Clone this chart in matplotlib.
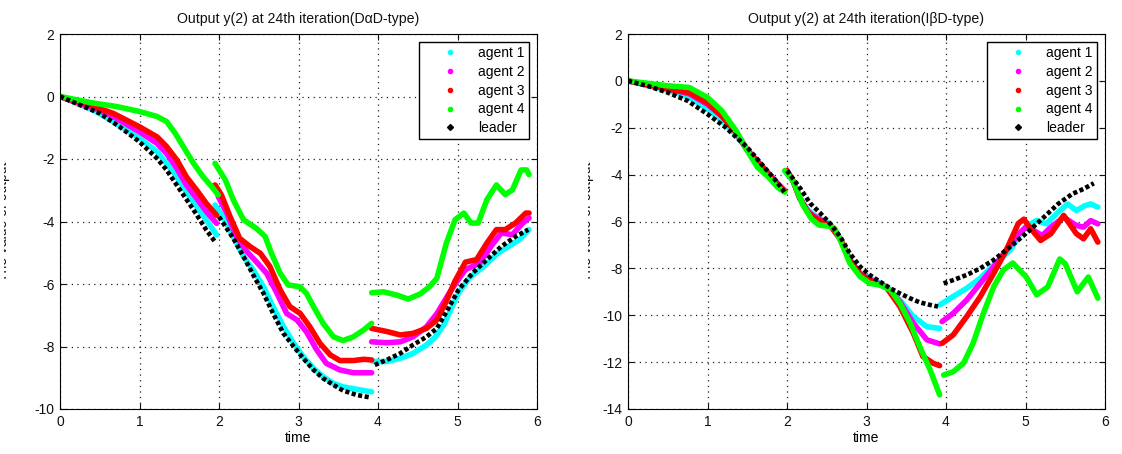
import numpy as np
import matplotlib
matplotlib.use("Agg")
import matplotlib.pyplot as plt
from matplotlib.lines import Line2D
from matplotlib.transforms import Bbox, TransformedBbox

plt.rcParams['font.family'] = ['Liberation Sans', 'DejaVu Sans']
plt.rcParams['axes.unicode_minus'] = False

nan = np.nan

# ---- left panel: D-alpha-D type (the three runs are split by nan) ----
da_agent1_t = [0, 0.42, 0.67, 1.0, 1.22, 1.34, 1.47, 1.59, 1.72, 1.84, 1.97, nan,
               1.95, 2.05, 2.18, 2.31, 2.43, 2.56, 2.68, 2.81, 2.94, 3.06, 3.19, 3.31, 3.44, 3.56, 3.73, 3.92, nan,
               3.94, 4.11, 4.28, 4.44, 4.61, 4.72, 4.83, 4.92, 5.01, 5.15, 5.33, 5.51, 5.64, 5.78, 5.9]
da_agent1_y = [0, -0.43, -0.8, -1.34, -1.76, -2.14, -2.57, -3.05, -3.53, -3.95, -4.43, nan,
               -3.47, -3.85, -4.49, -5.13, -5.55, -6.09, -6.73, -7.36, -7.9, -8.33, -8.7, -8.97, -9.18, -9.29, -9.37, -9.45, nan,
               -8.48, -8.48, -8.38, -8.22, -7.95, -7.7, -7.3, -6.8, -6.3, -5.8, -5.44, -5.01, -4.8, -4.58, -4.26]

da_agent2_t = [0, 0.42, 0.67, 1.0, 1.22, 1.34, 1.47, 1.59, 1.72, 1.84, 1.97, nan,
               1.99, 2.1, 2.22, 2.35, 2.47, 2.6, 2.73, 2.85, 2.98, 3.1, 3.23, 3.35, 3.52, 3.69, 3.92, nan,
               3.92, 4.11, 4.28, 4.44, 4.61, 4.74, 4.87, 4.97, 5.1, 5.28, 5.42, 5.55, 5.69, 5.82, 5.9]
da_agent2_y = [0, -0.37, -0.64, -1.13, -1.5, -1.82, -2.3, -2.83, -3.26, -3.68, -4.06, nan,
               -3.2, -3.74, -4.49, -4.96, -5.29, -5.66, -6.3, -6.94, -7.15, -7.53, -8.11, -8.54, -8.75, -8.84, -8.84, nan,
               -7.85, -7.88, -7.85, -7.69, -7.37, -6.95, -6.4, -6.0, -5.54, -5.33, -4.8, -4.37, -4.42, -4.05, -3.89]

da_agent3_t = [0, 0.42, 0.67, 1.0, 1.22, 1.34, 1.47, 1.59, 1.72, 1.84, 1.97, nan,
               1.95, 2.03, 2.14, 2.26, 2.39, 2.52, 2.64, 2.77, 2.89, 3.02, 3.14, 3.27, 3.4, 3.52, 3.69, 3.82, 3.92, nan,
               3.92, 4.11, 4.28, 4.44, 4.61, 4.74, 4.85, 4.97, 5.1, 5.24, 5.37, 5.49, 5.6, 5.73, 5.86, 5.9]
da_agent3_y = [0, -0.32, -0.54, -0.97, -1.29, -1.6, -2.03, -2.57, -3.0, -3.42, -3.8, nan,
               -2.83, -3.15, -3.85, -4.54, -4.8, -5.02, -5.44, -6.19, -6.72, -6.94, -7.36, -7.9, -8.27, -8.45, -8.45, -8.41, -8.43, nan,
               -7.42, -7.52, -7.63, -7.58, -7.42, -7.15, -6.6, -5.9, -5.3, -5.22, -4.69, -4.26, -4.26, -4.05, -3.73, -3.73]

da_agent4_t = [0, 0.42, 0.71, 1.0, 1.22, 1.34, 1.45, 1.55, 1.68, 1.8, 1.91, 1.99, nan,
               1.95, 2.08, 2.18, 2.31, 2.47, 2.58, 2.66, 2.77, 2.87, 3.02, 3.1, 3.19, 3.31, 3.44, 3.56, 3.69, 3.82, 3.92, nan,
               3.92, 4.07, 4.23, 4.38, 4.53, 4.65, 4.74, 4.86, 4.97, 5.08, 5.17, 5.26, 5.37, 5.49, 5.6, 5.69, 5.8, 5.87, 5.9]
da_agent4_y = [0, -0.21, -0.32, -0.48, -0.64, -0.8, -1.18, -1.6, -2.14, -2.57, -2.89, -3.15, nan,
               -2.14, -2.67, -3.31, -3.95, -4.22, -4.48, -5.02, -5.66, -6.03, -6.09, -6.3, -6.73, -7.26, -7.69, -7.81, -7.69, -7.47, -7.26, nan,
               -6.28, -6.25, -6.35, -6.48, -6.32, -6.08, -5.82, -4.69, -3.94, -3.73, -4.05, -4.05, -3.3, -2.83, -3.14, -2.99, -2.35, -2.35, -2.5]

da_leader_t = [0, 0.25, 0.5, 0.75, 1.0, 1.22, 1.34, 1.51, 1.68, 1.84, 1.95, nan,
               2.0, 2.18, 2.31, 2.43, 2.56, 2.68, 2.81, 2.94, 3.06, 3.19, 3.31, 3.44, 3.56, 3.73, 3.9, nan,
               3.96, 4.11, 4.28, 4.44, 4.61, 4.74, 4.87, 5.01, 5.19, 5.37, 5.55, 5.73, 5.89]
da_leader_y = [0, -0.27, -0.54, -0.97, -1.45, -1.98, -2.35, -2.99, -3.63, -4.27, -4.65, nan,
               -3.85, -4.54, -5.13, -5.71, -6.3, -6.94, -7.58, -8.0, -8.38, -8.75, -9.02, -9.23, -9.41, -9.55, -9.63, nan,
               -8.59, -8.43, -8.22, -7.95, -7.69, -7.42, -6.85, -6.2, -5.65, -5.22, -4.8, -4.48, -4.26]

# ---- right panel: I-beta-D type ----
ib_agent1_t = [0, 0.5, 0.77, 1.0, 1.18, 1.36, 1.5, 1.68, 1.86, 1.97, nan,
               2.0, 2.08, 2.16, 2.26, 2.33, 2.45, 2.54, 2.67, 2.79, 2.92, 3.09, 3.25, 3.42, 3.59, 3.76, 3.92, nan,
               3.92, 4.09, 4.26, 4.43, 4.6, 4.81, 4.92, 5.01, 5.14, 5.26, 5.39, 5.53, 5.64, 5.75, 5.82, 5.91]
ib_agent1_y = [0, -0.4, -0.7, -1.2, -1.7, -2.3, -2.95, -3.62, -4.3, -4.72, nan,
               -3.83, -4.3, -5.0, -5.5, -5.7, -5.95, -6.1, -6.75, -7.6, -8.2, -8.5, -8.78, -9.35, -10.06, -10.49, -10.56, nan,
               -9.56, -9.2, -8.85, -8.42, -7.86, -7.22, -6.6, -6.2, -5.96, -6.1, -5.67, -5.25, -5.53, -5.32, -5.25, -5.39]

ib_agent2_t = [0, 0.5, 0.77, 1.0, 1.18, 1.36, 1.5, 1.68, 1.86, 1.97, nan,
               2.0, 2.08, 2.16, 2.26, 2.33, 2.45, 2.54, 2.67, 2.79, 2.92, 3.09, 3.25, 3.42, 3.59, 3.76, 3.92, nan,
               3.95, 4.09, 4.26, 4.43, 4.6, 4.76, 4.91, 5.0, 5.1, 5.21, 5.32, 5.48, 5.64, 5.73, 5.82, 5.91]
ib_agent2_y = [0, -0.33, -0.55, -1.0, -1.5, -2.2, -2.95, -3.62, -4.3, -4.7, nan,
               -3.83, -4.3, -5.0, -5.55, -5.75, -6.0, -6.15, -6.75, -7.65, -8.25, -8.55, -8.8, -9.42, -10.34, -11.05, -11.22, nan,
               -10.27, -9.92, -9.35, -8.64, -7.93, -7.22, -6.55, -6.25, -6.38, -6.6, -6.24, -5.82, -6.17, -6.24, -5.96, -6.1]

ib_agent3_t = [0, 0.5, 0.77, 1.0, 1.18, 1.36, 1.5, 1.68, 1.86, 1.97, nan,
               2.0, 2.08, 2.16, 2.26, 2.33, 2.45, 2.54, 2.67, 2.79, 2.92, 3.09, 3.25, 3.42, 3.59, 3.71, 3.84, 3.92, nan,
               3.95, 4.09, 4.26, 4.43, 4.6, 4.76, 4.91, 4.98, 5.05, 5.19, 5.32, 5.48, 5.64, 5.73, 5.82, 5.91]
ib_agent3_y = [0, -0.35, -0.5, -0.95, -1.5, -2.2, -2.95, -3.65, -4.33, -4.68, nan,
               -3.83, -4.3, -5.0, -5.6, -5.8, -6.05, -6.15, -6.75, -7.65, -8.25, -8.6, -8.81, -9.63, -10.77, -11.76, -12.05, -12.15, nan,
               -11.2, -10.84, -10.06, -9.21, -8.21, -7.21, -6.08, -5.9, -6.24, -6.81, -6.52, -5.74, -6.52, -6.74, -6.31, -6.88]

ib_agent4_t = [0, 0.5, 0.77, 1.0, 1.18, 1.36, 1.5, 1.63, 1.77, 1.88, 1.97, nan,
               1.97, 2.08, 2.2, 2.31, 2.4, 2.53, 2.6, 2.67, 2.79, 2.92, 3.04, 3.17, 3.3, 3.42, 3.55, 3.67, 3.8, 3.92, nan,
               3.97, 4.09, 4.22, 4.34, 4.47, 4.6, 4.72, 4.84, 5.01, 5.14, 5.28, 5.43, 5.5, 5.65, 5.79, 5.91]
ib_agent4_y = [0, -0.21, -0.28, -0.71, -1.28, -2.13, -2.98, -3.69, -4.11, -4.54, -4.75, nan,
               -3.83, -4.3, -5.3, -5.9, -6.15, -6.2, -6.3, -6.79, -7.78, -8.35, -8.64, -8.71, -8.92, -9.49, -10.34, -11.34, -12.33, -13.4, nan,
               -12.55, -12.41, -12.05, -11.2, -9.92, -8.78, -8.07, -7.77, -8.37, -9.13, -8.79, -7.6, -7.8, -9.0, -8.37, -9.27]

ib_leader_t = [0, 0.25, 0.5, 0.75, 1.0, 1.23, 1.5, 1.68, 1.86, 1.97, nan,
               2.0, 2.17, 2.29, 2.42, 2.54, 2.67, 2.79, 2.92, 3.04, 3.17, 3.3, 3.42, 3.55, 3.67, 3.8, 3.9, nan,
               3.97, 4.09, 4.26, 4.43, 4.6, 4.76, 4.91, 5.05, 5.23, 5.41, 5.59, 5.73, 5.86]
ib_leader_y = [0, -0.22, -0.5, -0.85, -1.42, -1.99, -2.84, -3.55, -4.26, -4.75, nan,
               -3.83, -4.6, -5.22, -5.65, -6.08, -6.65, -7.36, -7.93, -8.28, -8.57, -8.85, -9.07, -9.28, -9.45, -9.56, -9.63, nan,
               -8.64, -8.5, -8.28, -8.0, -7.64, -7.21, -6.79, -6.38, -5.82, -5.25, -4.82, -4.61, -4.37]

labels = ['agent 1', 'agent 2', 'agent 3', 'agent 4', 'leader']
colors = ['#00ffff', '#ff00ff', '#ff0000', '#00ff00']

W, H = 1122, 454
fig = plt.figure(figsize=(W / 100, H / 100), dpi=100)


def panel(rect, title, agents, leader, ylim, yticks, label_right):
    ax = fig.add_axes([rect[0] / W, 1 - rect[3] / H, (rect[2] - rect[0]) / W, (rect[3] - rect[1]) / H])
    for (t, y), c in zip(agents, colors):
        ax.plot(t, y, color=c, lw=4, solid_joinstyle='round', solid_capstyle='round')
    ax.plot(leader[0], leader[1], color='black', lw=3.3, ls=(0, (0.9, 0.55)),
            dash_capstyle='butt')
    ax.set_xlim(0, 6)
    ax.set_ylim(*ylim)
    ax.set_xticks(range(7))
    ax.set_yticks(yticks)
    ax.grid(True, color='#222222', ls=(0, (1, 3.5)), lw=0.9)
    ax.tick_params(direction='in', length=4, width=0.8, top=True, right=True,
                   labelsize=10, pad=4, colors='#111111')
    for s in ax.spines.values():
        s.set_linewidth(0.8)
    ax.set_title(title, fontsize=10.2, pad=8, color='#111111')
    ax.set_xlabel('time', fontsize=10, labelpad=2)
    handles = [Line2D([], [], ls='none', marker='.', ms=6, color=c) for c in colors]
    handles.append(Line2D([], [], ls='none', marker='D', ms=3, color='black'))
    leg = ax.legend(handles, labels, loc='upper right', fontsize=10, fancybox=False,
                    framealpha=1, edgecolor='black', borderpad=0.3, labelspacing=0.34,
                    handlelength=3.85, handletextpad=0.1, borderaxespad=0.58)
    leg.get_frame().set_linewidth(1.0)
    # y label, half cut off at the edge of the original sub-image
    txt = fig.text(label_right / W, (1 - (rect[1] + rect[3]) / 2 / H), 'The value of output',
                   rotation=90, ha='right', va='center', fontsize=10, color='#111111')
    txt.set_clip_box(TransformedBbox(Bbox.from_extents((label_right - 6) / W, 0, 1, 1),
                                     fig.transFigure))
    return ax


panel((60, 34, 537, 409), 'Output y(2) at 24th iteration(D\u03b1D-type)',
      [(da_agent1_t, da_agent1_y), (da_agent2_t, da_agent2_y),
       (da_agent3_t, da_agent3_y), (da_agent4_t, da_agent4_y)],
      (da_leader_t, da_leader_y), (-10, 2), range(-10, 3, 2), 10)

panel((628, 34, 1105, 409), 'Output y(2) at 24th iteration(I\u03b2D-type)',
      [(ib_agent1_t, ib_agent1_y), (ib_agent2_t, ib_agent2_y),
       (ib_agent3_t, ib_agent3_y), (ib_agent4_t, ib_agent4_y)],
      (ib_leader_t, ib_leader_y), (-14, 2), range(-14, 3, 2), 594)

fig.savefig('out.png', dpi=100)
